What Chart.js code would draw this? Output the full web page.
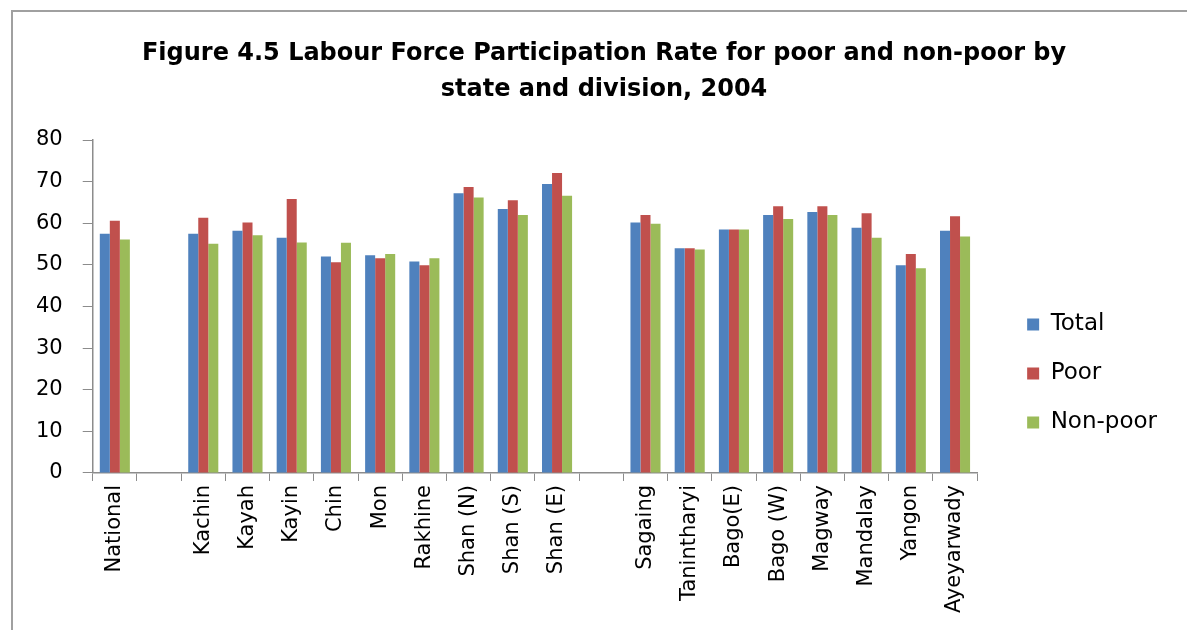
<!DOCTYPE html>
<html>
<head>
<meta charset="utf-8">
<script src="https://cdn.jsdelivr.net/npm/chart.js@4"></script>
<style>
  body { margin: 0; background: #fff; }
  #frame { position: absolute; left: 11px; top: 10px; width: 1180px; height: 625px;
           border-top: 2px solid #a0a0a0; border-left: 2px solid #a0a0a0; }
  #myChart { position: absolute; left: 0; top: 0; }
</style>
</head>
<body>
<div id="frame"></div>
<canvas id="myChart" width="1187" height="630"></canvas>
<script>
const ctx = document.getElementById("myChart").getContext("2d");

// categories (empty strings are the gaps between groups)
const labels = [
  "National", "",
  "Kachin", "Kayah", "Kayin", "Chin", "Mon", "Rakhine", "Shan (N)", "Shan (S)", "Shan (E)", "",
  "Sagaing", "Tanintharyi", "Bago(E)", "Bago (W)", "Magway", "Mandalay", "Yangon", "Ayeyarwady",
];

const total = [57.5, null, 57.5, 58.2, 56.5, 52.0, 52.3, 50.8, 67.2, 63.4, 69.4, null,
  60.2, 54.0, 58.5, 62.0, 62.7, 58.9, 49.9, 58.2];
const poor = [60.6, null, 61.3, 60.2, 65.8, 50.6, 51.6, 49.9, 68.7, 65.5, 72.1, null,
  62.0, 54.0, 58.5, 64.1, 64.1, 62.4, 52.6, 61.7];
const nonPoor = [56.1, null, 55.1, 57.1, 55.4, 55.3, 52.6, 51.6, 66.2, 62.0, 66.6, null,
  59.9, 53.7, 58.5, 61.0, 62.0, 56.5, 49.2, 56.8];

const yTicks = [0, 10, 20, 30, 40, 50, 60, 70, 80];

const axisColor = "#8c8c8c";
const fontFamily = "'DejaVu Sans', sans-serif";

const data = {
  labels: labels,
  datasets: [
    { label: "Total", data: total, backgroundColor: "#4F81BD" },
    { label: "Poor", data: poor, backgroundColor: "#C0504D" },
    { label: "Non-poor", data: nonPoor, backgroundColor: "#9BBB59" },
  ],
};

const config = {
  type: "bar",
  data: data,
  options: {
    responsive: false,
    animation: false,
    categoryPercentage: 0.68,
    barPercentage: 1,
    layout: { padding: { left: 16, right: 20, top: 0, bottom: 13 } },
    plugins: {
      title: {
        display: true,
        // leading spaces nudge the centred title a little to the right
        text: [
          "   Figure 4.5 Labour Force Participation Rate for poor and non-poor by",
          "   state and division, 2004",
        ],
        color: "#000",
        font: { family: fontFamily, size: 24, weight: "bold", lineHeight: 1.5 },
        padding: { top: 36, bottom: 32 },
      },
      legend: {
        position: "right",
        // empty legend title only pushes the items down
        title: { display: true, text: "", font: { size: 10, lineHeight: 1 }, padding: { top: 0, bottom: 120 } },
        labels: {
          boxWidth: 12,
          boxHeight: 12,
          padding: 26,
          color: "#000",
          font: { family: fontFamily, size: 23 },
        },
      },
      tooltip: { enabled: false },
    },
    scales: {
      x: {
        grid: { drawOnChartArea: false, tickLength: 8, color: axisColor, offset: true },
        border: { color: axisColor, width: 1.5 },
        ticks: {
          autoSkip: false,
          minRotation: 90,
          maxRotation: 90,
          color: "#000",
          padding: 4,
          font: { family: fontFamily, size: 21 },
        },
      },
      y: {
        min: 0,
        max: 80,
        afterBuildTicks: (scale) => {
          scale.ticks = yTicks.map((v) => ({ value: v }));
        },
        grid: { drawOnChartArea: false, tickLength: 10, color: axisColor },
        border: { color: axisColor, width: 1.5 },
        ticks: { color: "#000", padding: 20, font: { family: fontFamily, size: 21 } },
      },
      // empty spacer between the plot and the legend
      gap: {
        position: "right",
        display: true,
        grid: { display: false },
        border: { display: false },
        ticks: { display: false },
        afterFit: (scale) => {
          scale.width = 24;
        },
      },
    },
  },
};

const myChart = new Chart(ctx, config);
</script>
</body>
</html>
